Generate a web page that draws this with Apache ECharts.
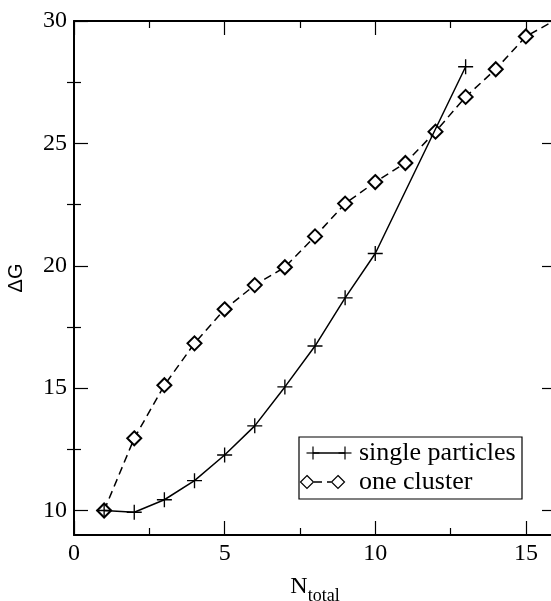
<!DOCTYPE html>
<html>
<head>
<meta charset="utf-8">
<script src="https://cdn.jsdelivr.net/npm/echarts@6/dist/echarts.min.js"></script>
<style>html,body{margin:0;padding:0;background:#fff;}#c{width:551px;height:601px;}</style>
</head>
<body>
<div id="c"></div>
<script>
// Data
const singleX = [1, 2, 3, 4, 5, 6, 7, 8, 9, 10, 13];
const singleY = [10.0, 9.93, 10.44, 11.22, 12.27, 13.46, 15.05, 16.72, 18.69, 20.5, 28.13];
const clusterX = [1, 2, 3, 4, 5, 6, 7, 8, 9, 10, 11, 12, 13, 14, 15, 16];
const clusterY = [10.0, 12.95, 15.12, 16.83, 18.22, 19.21, 19.94, 21.2, 22.54, 23.42, 24.2, 25.48, 26.9, 28.03, 29.37, 30.05];
const xMajorTicks = [0, 5, 10, 15];
const xMinorTicks = [2.5, 7.5, 12.5];
const yMajorTicks = [10, 15, 20, 25, 30];
const yMinorTicks = [12.5, 17.5, 22.5, 27.5];
const seriesNames = ['single particles', 'one cluster'];

const FONT = 'Liberation Serif';
const chart = echarts.init(document.getElementById('c'), null, {renderer: 'canvas'});

function axisBase(extra) {
  return Object.assign({
    type: 'value',
    splitLine: {show: false},
    axisLine: {show: true, onZero: false, lineStyle: {color: '#000', width: 2}},
    axisTick: {show: true, inside: true, length: 14, lineStyle: {color: '#000', width: 1.2}},
    axisLabel: {show: false},
  }, extra);
}

const xAxes = [
  axisBase({position: 'bottom', min: 0, max: 16,
    axisTick: {show: true, inside: true, length: 14, customValues: xMajorTicks, lineStyle: {color: '#000', width: 1.2}},
    axisLabel: {show: true, customValues: xMajorTicks, color: '#000', fontFamily: FONT, fontSize: 24, margin: 7},
    name: '{n|N}{s|total}', nameLocation: 'middle', nameGap: 34,
    nameTextStyle: {rich: {
      n: {fontFamily: FONT, fontSize: 24, color: '#000'},
      s: {fontFamily: FONT, fontSize: 18, color: '#000', padding: [18, 0, 0, 0]}
    }}
  }),
  axisBase({position: 'bottom', min: 0, max: 16, axisLine: {show: false},
    axisTick: {show: true, inside: true, length: 7, customValues: xMinorTicks, lineStyle: {color: '#000', width: 1.2}}}),
  axisBase({position: 'top', min: 0, max: 16,
    axisTick: {show: true, inside: true, length: 14, customValues: xMajorTicks, lineStyle: {color: '#000', width: 1.2}}}),
  axisBase({position: 'top', min: 0, max: 16, axisLine: {show: false},
    axisTick: {show: true, inside: true, length: 7, customValues: xMinorTicks, lineStyle: {color: '#000', width: 1.2}}})
];

const yAxes = [
  axisBase({position: 'left', min: 9, max: 30,
    axisTick: {show: true, inside: true, length: 14, customValues: yMajorTicks, lineStyle: {color: '#000', width: 1.2}},
    axisLabel: {show: true, customValues: yMajorTicks, color: '#000', fontFamily: FONT, fontSize: 24, margin: 7},
    name: 'ΔG', nameLocation: 'middle', nameRotate: 90, nameGap: 48,
    nameTextStyle: {fontFamily: 'Liberation Sans', fontSize: 20, color: '#000'}
  }),
  axisBase({position: 'left', min: 9, max: 30, axisLine: {show: false},
    axisTick: {show: true, inside: true, length: 7, customValues: yMinorTicks, lineStyle: {color: '#000', width: 1.2}}}),
  axisBase({position: 'right', min: 9, max: 30,
    axisTick: {show: true, inside: true, length: 14, customValues: yMajorTicks, lineStyle: {color: '#000', width: 1.2}}}),
  axisBase({position: 'right', min: 9, max: 30, axisLine: {show: false},
    axisTick: {show: true, inside: true, length: 7, customValues: yMinorTicks, lineStyle: {color: '#000', width: 1.2}}})
];

const plusPath = 'path://M0,4.55H10V5.45H0Z M4.55,0H5.45V10H4.55Z';

// legend drawn as graphic (markers at both ends like the original)
const LX = 299, LY = 437, LW = 223, LH = 62, R1 = 453, R2 = 482;
function plusG(cx, cy) {
  const h = 6.5;
  return [
    {type: 'line', shape: {x1: cx - h, y1: cy, x2: cx + h, y2: cy}, style: {stroke: '#000', lineWidth: 1.2}},
    {type: 'line', shape: {x1: cx, y1: cy - h, x2: cx, y2: cy + h}, style: {stroke: '#000', lineWidth: 1.2}}
  ];
}
function diamondG(cx, cy) {
  const h = 6.5;
  return {type: 'polygon', shape: {points: [[cx, cy - h], [cx + h, cy], [cx, cy + h], [cx - h, cy]]},
    style: {fill: '#fff', stroke: '#000', lineWidth: 1.2}};
}
const graphics = [
  {type: 'rect', shape: {x: LX, y: LY, width: LW, height: LH}, style: {fill: '#fff', stroke: '#000', lineWidth: 1.2}, z: 10},
  {type: 'line', shape: {x1: 313, y1: R1, x2: 345, y2: R1}, style: {stroke: '#000', lineWidth: 1.5}, z: 11},
  ...plusG(313, R1).map(g => Object.assign(g, {z: 11})),
  ...plusG(345, R1).map(g => Object.assign(g, {z: 11})),
  {type: 'line', shape: {x1: 314, y1: R2, x2: 331, y2: R2}, style: {stroke: '#000', lineWidth: 1.5, lineDash: [8, 5]}, z: 11},
  Object.assign(diamondG(307, R2), {z: 12}),
  Object.assign(diamondG(338, R2), {z: 12}),
  {type: 'text', x: 359, y: R1, style: {text: seriesNames[0], fontFamily: FONT, fontSize: 26, fill: '#000', verticalAlign: 'middle'}, z: 11},
  {type: 'text', x: 359, y: R2, style: {text: seriesNames[1], fontFamily: FONT, fontSize: 26, fill: '#000', verticalAlign: 'middle'}, z: 11}
];

chart.setOption({
  animation: false,
  backgroundColor: '#fff',
  grid: {left: 74, top: 21, width: 482, bottom: 66, containLabel: false, outerBoundsMode: 'none'},
  xAxis: xAxes,
  yAxis: yAxes,
  graphic: graphics,
  series: [
    {
      name: seriesNames[0], type: 'line', xAxisIndex: 0, yAxisIndex: 0,
      data: singleX.map((x, i) => [x, singleY[i]]),
      symbol: plusPath, symbolSize: 15,
      lineStyle: {color: '#000', width: 1.5},
      itemStyle: {color: '#000'},
      z: 3
    },
    {
      name: seriesNames[1], type: 'line', xAxisIndex: 0, yAxisIndex: 0,
      data: clusterX.map((x, i) => [x, clusterY[i]]),
      symbol: 'emptyDiamond', symbolSize: 14, showAllSymbol: true,
      lineStyle: {color: '#000', width: 1.5, type: [8, 5]},
      itemStyle: {color: '#000', borderColor: '#000', borderWidth: 1.2},
      z: 2
    }
  ]
});
</script>
</body>
</html>
